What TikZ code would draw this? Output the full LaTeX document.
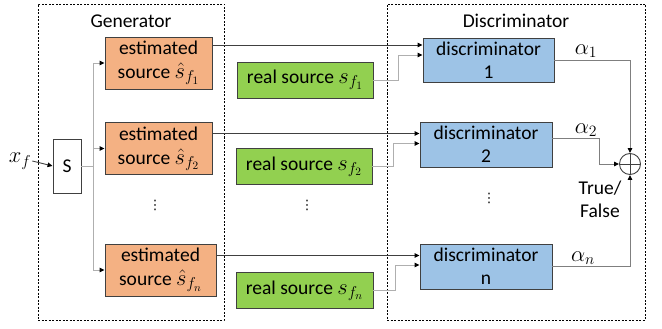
\documentclass[tikz,border=0pt]{standalone}
\usepackage{fix-cm}
\usepackage{fontspec}
\setmainfont{Carlito}
\newfontfamily\symfont{DejaVu Sans}
\usetikzlibrary{arrows.meta}

\definecolor{estfill}{HTML}{F4B183}
\definecolor{realfill}{HTML}{92D050}
\definecolor{discfill}{HTML}{9DC3E6}
\definecolor{boxline}{HTML}{404040}
\definecolor{wiredark}{HTML}{404040}
\definecolor{wiremid}{HTML}{7F7F7F}
\definecolor{wirelight}{HTML}{AFAFAF}

% variables are set a bit larger than the text
\newcommand{\mvar}[1]{{\fontsize{22.5}{23}\selectfont$#1$}}

\begin{document}
\begin{tikzpicture}[x=1pt, y=-1pt,
  font={\fontsize{19.5}{23}\selectfont},
  >={Triangle[length=5pt,width=4.5pt,black]},
  frame/.style={draw=black, dash pattern=on 2pt off 1.5pt, line width=0.6pt,
    inner sep=0pt, minimum height=316pt},
  block/.style={draw=boxline, line width=0.9pt, inner sep=0pt, align=center},
  estbox/.style={block, fill=estfill, minimum width=107pt, minimum height=52pt},
  realbox/.style={block, fill=realfill, minimum width=136pt, minimum height=36pt},
  discbox/.style={block, fill=discfill, minimum width=132pt, minimum height=45pt},
  wire/.style={line width=0.9pt, draw=wiredark},
  softwire/.style={line width=0.9pt, draw=wirelight},
  dotsnode/.style={font={\symfont\fontsize{13}{13}\selectfont}, inner sep=0pt}
]

\useasboundingbox (0,0) rectangle (662,329);

% the two dashed groups
\node [frame, minimum width=186pt] (genframe) at (131,162) {};
\node [frame, minimum width=258pt] (discframe) at (516,162) {};
\node (genlabel) at (131,21) {Generator};
\node (disclabel) at (516,21) {Discriminator};

% splitter and estimated sources
\node [inner sep=1pt] (xf) at (20,161) {\mvar{x_f}};
\node [block, fill=white, minimum width=28pt, minimum height=54pt] (split) at (67,166) {S};

\node [estbox] (est1) at (158.5,63) {estimated\\[1pt] source \mvar{\hat{s}_{f_1}}};
\node [estbox] (est2) at (158.5,148.5) {estimated\\[1pt] source \mvar{\hat{s}_{f_2}}};
\node [estbox, minimum width=111pt] (estn) at (160.5,270) {estimated\\[1pt] source \mvar{\hat{s}_{f_n}}};
\node [dotsnode] (gdots) at (155,205) {⋮};

% real sources
\node [realbox] (rs1) at (305,80) {real source \mvar{s_{f_1}}};
\node [realbox] (rs2) at (304,166.5) {real source \mvar{s_{f_2}}};
\node [realbox, minimum width=137pt] (rsn) at (304.5,290.5) {real source \mvar{s_{f_n}}};
\node [dotsnode] (rdots) at (307,205) {⋮};

% discriminators
\node [discbox, minimum width=131pt, minimum height=44pt] (d1) at (488.5,60) {discriminator\\ 1};
\node [discbox] (d2) at (486,144.5) {discriminator\\ 2};
\node [discbox] (dn) at (486,266.5) {discriminator\\ n};
\node [dotsnode] (ddots) at (489,198) {⋮};

% summing junction
\node [draw=boxline, line width=0.9pt, circle, minimum size=21pt, inner sep=0pt] (sum) at (630,164) {};
\draw [line width=0.9pt, draw=boxline] (sum.north) -- (sum.south) (sum.west) -- (sum.east);

\node (a1) at (586,51) {\mvar{\alpha_1}};
\node (a2) at (586,130) {\mvar{\alpha_2}};
\node (an) at (583,258) {\mvar{\alpha_n}};
\node [align=center] (tf) at (600,199) {True/\\False};

% input points on the discriminators
\coordinate (d1e) at ([yshift=15pt]d1.west);
\coordinate (d1r) at ([yshift=5pt]d1.west);
\coordinate (d2e) at ([yshift=11pt]d2.west);
\coordinate (d2r) at ([yshift=1pt]d2.west);
\coordinate (dne) at ([yshift=11pt]dn.west);
\coordinate (dnr) at ([yshift=1.5pt]dn.west);

% wiring
\draw [wire, ->] (xf.east) -- (split.west);
\draw [softwire] (split.east) -- ++(12,0) coordinate (fork);
\draw [softwire, ->] (fork) |- (est1.west);
\draw [softwire, ->] (fork) |- (est2.west);
\draw [softwire, ->] (fork) |- (estn.west);

\draw [wire, ->] (est1.east |- d1e) -- (d1e);
\draw [wire, ->] (est2.east |- d2e) -- (d2e);
\draw [wire, ->] (estn.east |- dne) -- (dne);

\draw [softwire, ->] (rs1.east) -- ++(25,0) |- (d1r);
\draw [softwire, ->] (rs2.east) -- ++(21,0) |- (d2r);
\draw [softwire, ->] (rsn.east) -- ++(22,0) |- (dnr);

\draw [wire, draw=wiremid, ->] (d1.east) -| (sum.north);
\draw [softwire, draw=wiremid, ->] ([yshift=6pt]d2.east) -- ++(47,0) |- (sum.west);
\draw [wire, draw=wiremid, ->] (dn.east) -| (sum.south);

\end{tikzpicture}
\end{document}
